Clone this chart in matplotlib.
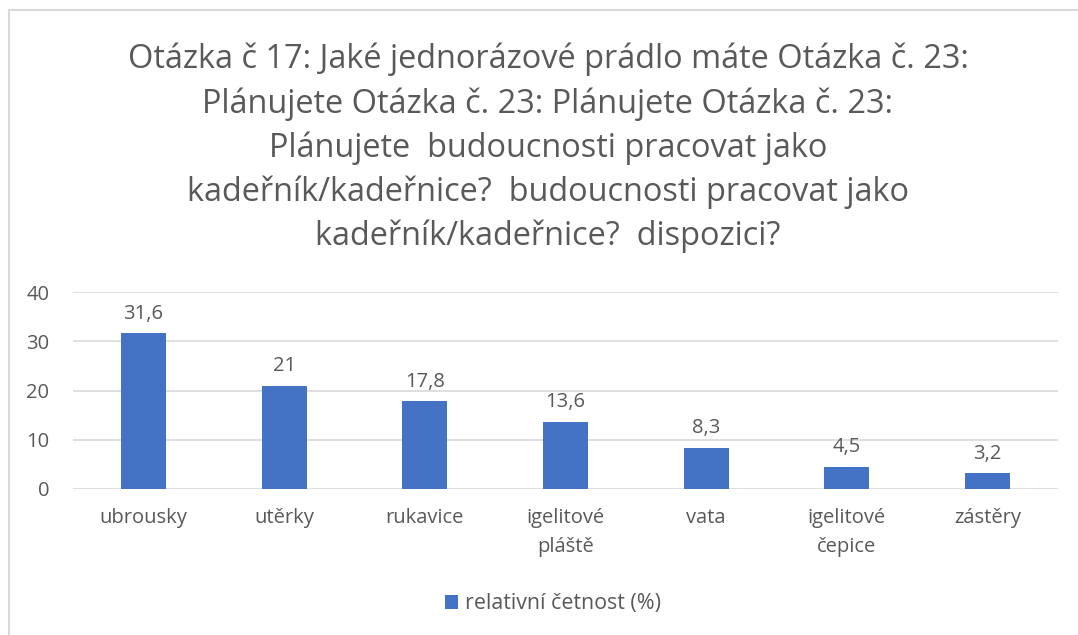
import matplotlib
matplotlib.use("Agg")
import matplotlib.pyplot as plt
from matplotlib.lines import Line2D

categories = ["ubrousky", "utěrky", "rukavice", "igelitové\npláště", "vata", "igelitové\nčepice", "zástěry"]
values = [31.6, 21, 17.8, 13.6, 8.3, 4.5, 3.2]
value_labels = ["31,6", "21", "17,8", "13,6", "8,3", "4,5", "3,2"]
yticks = [0, 10, 20, 30, 40]
series_name = "relativní četnost (%)"
title = ("Otázka č 17: Jaké jednorázové prádlo máte Otázka č. 23:\n"
         "Plánujete Otázka č. 23: Plánujete Otázka č. 23:\n"
         "Plánujete  budoucnosti pracovat jako\n"
         "kadeřník/kadeřnice?  budoucnosti pracovat jako\n"
         "kadeřník/kadeřnice?  dispozici?")

plt.rcParams['font.family'] = ['Open Sans', 'DejaVu Sans']
TXT = '#595959'
BLUE = '#4472C4'
FS = 14.5

fig = plt.figure(figsize=(10.78, 6.35), dpi=100)
ax = fig.add_axes([73/1078, 1-489/635, 985/1078, 197/635])

x = list(range(len(categories)))
bars = ax.bar(x, values, width=0.32, color=BLUE, label=series_name, zorder=3)
for xi, v, lab in zip(x, values, value_labels):
    ax.annotate(lab, (xi, v), xytext=(0, 7), textcoords='offset points',
                ha='center', va='bottom', fontsize=FS, color=TXT)

ax.set_xlim(-0.5, len(categories)-0.5)
ax.set_ylim(0, 40)
ax.set_yticks(yticks)
ax.set_yticklabels([str(t) for t in yticks])
ax.set_xticks(x)
ax.set_xticklabels(categories, linespacing=1.55)
ax.tick_params(axis='both', length=0, labelsize=FS, colors=TXT)
ax.tick_params(axis='y', pad=17)
ax.tick_params(axis='x', pad=14)
ax.grid(axis='y', color='#D9D9D9', linewidth=1.2, zorder=0)
for s in ax.spines.values():
    s.set_visible(False)

fig.text(548/1078, 1-43/635, title, ha='center', va='top', fontsize=23.4, color=TXT,
         linespacing=1.42)

leg = fig.legend(handles=[bars], labels=[series_name], loc='center',
                 bbox_to_anchor=(553/1078, 1-604/635), frameon=False, fontsize=15.4,
                 handlelength=0.62, handleheight=0.62, handletextpad=0.3)
for t in leg.get_texts():
    t.set_color(TXT)

# chart-area border (left and top visible)
fig.add_artist(Line2D([9/1078, 9/1078], [0, 1-10/635], transform=fig.transFigure,
                      color='#D9D9D9', linewidth=1.5))
fig.add_artist(Line2D([9/1078, 1], [1-10/635, 1-10/635], transform=fig.transFigure,
                      color='#D9D9D9', linewidth=1.5))

fig.savefig("out.png", dpi=100)
